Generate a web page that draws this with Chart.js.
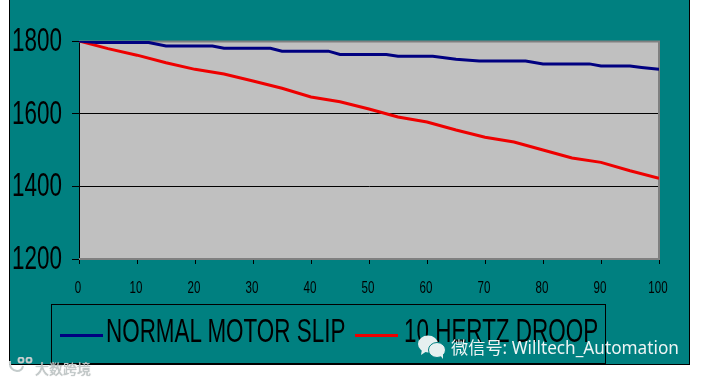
<!DOCTYPE html>
<html>
<head>
<meta charset="utf-8">
<title>Motor slip vs droop</title>
<script src="https://cdn.jsdelivr.net/npm/chart.js@4"></script>
<style>
  html, body { margin: 0; padding: 0; background: #fff; }
  #wrap { position: relative; width: 701px; height: 380px; overflow: hidden; }
  #frame { position: absolute; left: 9px; top: 0; width: 679px; height: 364px; background: #008080;
           border-left: 1px solid #000; border-right: 1px solid #000; border-bottom: 1px solid #000; }
  canvas { position: absolute; left: 0; top: 0; }
  #legend { position: absolute; left: 51px; top: 304px; width: 553px; height: 58px; border: 1px solid #000;
            border-bottom-width: 2px; }
  .swatch { position: absolute; top: 29px; width: 43px; height: 3px; }
  .lbl { position: absolute; top: 7px; font: 33px "Liberation Sans", Arial, sans-serif; line-height: 38px; color: #000;
         white-space: nowrap; transform-origin: left center; transform: scaleX(0.68); }
  .mark { position: absolute; white-space: nowrap; }
  #wm1 { left: 35px; top: 358px; font: 14px "Noto Sans CJK SC", sans-serif; color: #c4cccc; text-shadow: 0 0 1px #999; }
  #wm2 { left: 451px; top: 336px; font: 17.2px "Noto Sans", "Noto Sans CJK SC", sans-serif; line-height: 24px; color: #eef4f4; }
  #icon { position: absolute; left: 417px; top: 334px; }
  #icon2 { position: absolute; left: 8px; top: 357px; }
</style>
</head>
<body>
<div id="wrap">
  <div id="frame"></div>
  <canvas id="myChart" width="701" height="380"></canvas>
  <div id="legend"></div>
  <svg id="icon" width="30" height="26" viewBox="0 0 30 26">
    <ellipse cx="11" cy="10" rx="10" ry="8.5" fill="#e6f0f0"/>
    <path d="M5 15 L4 21 L10 17 Z" fill="#e6f0f0"/>
    <ellipse cx="20" cy="16" rx="8.5" ry="7.5" fill="#e6f0f0" stroke="#008080"/>
    <path d="M23 21 L26 25 L26 19 Z" fill="#e6f0f0"/>
  </svg>
  <svg id="icon2" width="26" height="16" viewBox="0 0 26 16" fill="none" stroke="#c4cccc" stroke-width="2">
    <path d="M2 4 Q1 13 9 14 Q14 14 15 9"/>
    <circle cx="13" cy="3" r="2.5"/><circle cx="21" cy="3" r="2.5"/>
  </svg>
  <div id="wm1" class="mark">大数跨境</div>
  <div id="wm2" class="mark">微信号: Willtech_Automation</div>
</div>
<script>
// values
const slipX = [0, 3, 12, 15, 23, 25, 33, 35, 43, 45, 53, 55, 61, 65, 69, 77, 80, 88, 90, 95, 97, 100];
const slipY = [1800, 1796, 1796, 1786, 1786, 1780, 1780, 1772, 1772, 1763, 1763, 1758, 1758, 1750, 1745, 1745, 1737, 1737, 1731, 1731, 1727, 1722];
const droopX = [0, 5, 10, 15, 20, 25, 30, 35, 40, 45, 50, 55, 60, 65, 70, 75, 80, 85, 90, 95, 100];
const droopY = [1800, 1779, 1761, 1740, 1722, 1709, 1690, 1670, 1646, 1633, 1613, 1591, 1577, 1555, 1535, 1522, 1500, 1478, 1466, 1443, 1422];
const yTicks = [1800, 1600, 1400, 1200];
const seriesNames = ['NORMAL MOTOR SLIP', '10 HERTZ DROOP'];
const seriesColors = ['#000080', '#ee0000'];

function toPoints(xs, ys) {
  return xs.map(function (x, i) { return { x: x, y: ys[i] }; });
}

// squeezed Arial look of the old chart: tall narrow tick labels
function squeezed(ctx, text, x, y, size, sx, align) {
  ctx.save();
  ctx.translate(x, y);
  ctx.scale(sx, 1);
  ctx.font = size + 'px "Liberation Sans", Arial, sans-serif';
  ctx.fillStyle = '#000';
  ctx.textAlign = align;
  ctx.textBaseline = 'middle';
  ctx.fillText(text, 0, 0);
  ctx.restore();
}

const plotBox = {
  id: 'plotBox',
  beforeDraw: function (chart) {
    const a = chart.chartArea, ctx = chart.ctx;
    ctx.fillStyle = '#c0c0c0';
    ctx.fillRect(a.left, a.top, a.width, a.height);
  },
  beforeDatasetsDraw: function (chart) {
    const a = chart.chartArea, ctx = chart.ctx;
    ctx.strokeStyle = '#808080';
    ctx.lineWidth = 2;
    ctx.beginPath();
    ctx.moveTo(a.left, a.top + 0.5);
    ctx.lineTo(a.right, a.top + 0.5);
    ctx.lineTo(a.right, a.bottom);
    ctx.lineTo(a.left, a.bottom);
    ctx.stroke();
  },
  afterDraw: function (chart) {
    const ctx = chart.ctx;
    const sy = chart.scales.y, sx = chart.scales.x;
    sy.ticks.forEach(function (t, i) {
      squeezed(ctx, String(t.value), 62, sy.getPixelForTick(i) + 1, 33, 0.68, 'right');
    });
    sx.ticks.forEach(function (t, i) {
      squeezed(ctx, String(t.value), sx.getPixelForTick(i) - 1, 288, 17, 0.68, 'center');
    });
  }
};

const myChart = new Chart(document.getElementById('myChart'), {
  type: 'line',
  data: {
    datasets: [
      { label: seriesNames[0], data: toPoints(slipX, slipY), borderColor: seriesColors[0], borderWidth: 3, pointRadius: 0, tension: 0 },
      { label: seriesNames[1], data: toPoints(droopX, droopY), borderColor: seriesColors[1], borderWidth: 3, pointRadius: 0, tension: 0 }
    ]
  },
  options: {
    responsive: false,
    animation: false,
    layout: { padding: { top: 41, right: 42, left: 0, bottom: 0 } },
    plugins: { legend: { display: false }, tooltip: { enabled: false } },
    scales: {
      x: {
        type: 'linear', min: 0, max: 100,
        afterFit: function (s) { s.height = 121; },
        grid: { display: true, drawOnChartArea: false, color: '#000', tickLength: 5 },
        border: { display: false },
        ticks: { stepSize: 10, display: false }
      },
      y: {
        min: 1200, max: 1800,
        afterFit: function (s) { s.width = 79; },
        afterBuildTicks: function (s) { s.ticks = yTicks.map(function (v) { return { value: v }; }); },
        grid: {
          color: function (c) { return (c.tick.value === 1800 || c.tick.value === 1200) ? 'rgba(0,0,0,0)' : '#000'; },
          tickColor: '#000',
          tickLength: 7
        },
        border: { color: '#000', width: 1 },
        ticks: { display: false }
      }
    }
  },
  plugins: [plotBox]
});

// legend box, built from the series names and colours
const legend = document.getElementById('legend');
const swatchLeft = [8, 303];
const labelLeft = [54, 352];
seriesNames.forEach(function (name, i) {
  const sw = document.createElement('div');
  sw.className = 'swatch';
  sw.style.left = swatchLeft[i] + 'px';
  sw.style.background = seriesColors[i];
  legend.appendChild(sw);
  const lb = document.createElement('div');
  lb.className = 'lbl';
  lb.style.left = labelLeft[i] + 'px';
  lb.textContent = name;
  legend.appendChild(lb);
});
</script>
</body>
</html>
